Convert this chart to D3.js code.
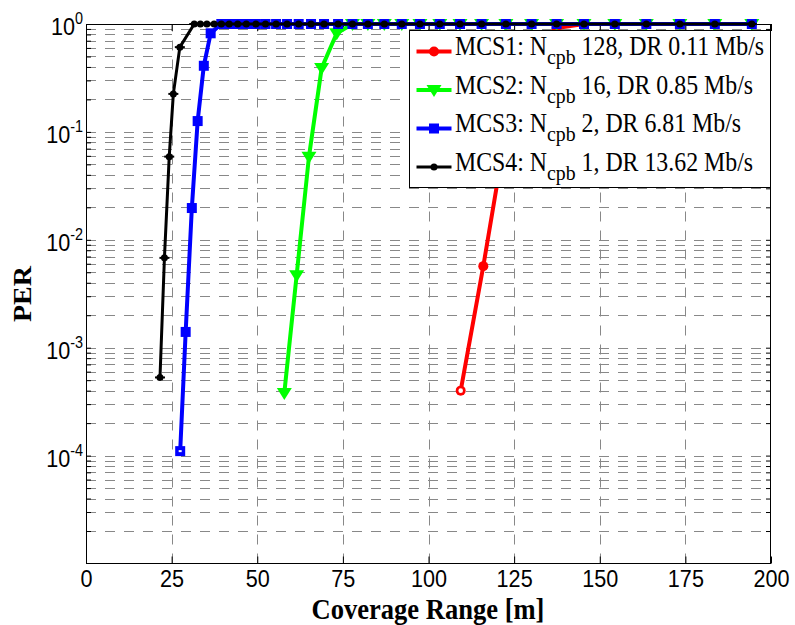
<!DOCTYPE html>
<html>
<head>
<meta charset="utf-8">
<script src="https://cdn.jsdelivr.net/npm/d3@7"></script>
<style>
  body { margin: 0; background: #fff; }
</style>
</head>
<body>
<div id="chart"></div>
<script>
// series values (PER vs coverage range)
var mcs1_x = [109.4, 116.0, 122.6, 130.1, 137.4];
var mcs1_y = [4.0e-4, 5.7e-3, 0.1, 0.5, 0.92];
var mcs2_x = [57.9, 61.5, 65.1, 68.8, 73.2];
var mcs2_y = [3.8e-4, 4.7e-3, 0.059, 0.39, 0.82];
var mcs3_x = [27.5, 29.1, 30.9, 32.6, 34.4, 36.4];
var mcs3_y = [1.1e-4, 1.4e-3, 0.0197, 0.126, 0.41, 0.82];
var mcs4_x = [21.6, 22.9, 24.3, 25.5, 27.4];
var mcs4_y = [5.3e-4, 6.8e-3, 0.059, 0.225, 0.61];
// points where every curve sits at PER = 1
var sat_x = [29.2, 31.6, 33.4, 35.3, 37.4, 39.5, 41.8, 44.3, 46.8, 49.6, 52.4, 55.5, 58.7,
             62.1, 65.7, 69.5, 73.6, 77.8, 82.3, 87.1, 92.2, 97.5, 103.3, 109.2, 115.5,
             122.6, 130.1, 137.4, 145.4, 154.4, 163.6, 173.4, 183.6, 194.4];

var names = ['MCS1', 'MCS2', 'MCS3', 'MCS4'];
var ncpb = ['128', '16', '2', '1'];
var rates = ['0.11', '0.85', '6.81', '13.62'];

var x_ticks = [0, 25, 50, 75, 100, 125, 150, 175, 200];
var y_exps = [0, -1, -2, -3, -4];

var width = 795, height = 625;
var plot_l = 86, plot_r = 771, plot_t = 24, plot_b = 563.5;
var sx = 0.9; // the figure text is a bit narrow

var svg = d3.select('#chart').append('svg')
    .attr('width', width)
    .attr('height', height);
svg.append('rect').attr('width', width).attr('height', height).attr('fill', '#fff');

var x_scale = d3.scaleLinear().domain([0, 200]).range([plot_l, plot_r]);
var y_scale = d3.scaleLog().domain([1e-5, 1]).range([plot_b, plot_t]);

// minor values for the log grid
var y_minor = [];
d3.range(-5, 0).forEach(function (k) {
    d3.range(1, 10).forEach(function (m) {
        if (!(k == -5 && m == 1)) y_minor.push(m * Math.pow(10, k));
    });
});

// grid
var grid = svg.append('g')
    .attr('stroke', '#888')
    .attr('stroke-width', 1)
    .attr('stroke-dasharray', '10,9');
grid.selectAll('.hg')
    .data(y_minor)
    .enter()
    .append('line')
    .attr('x1', plot_l).attr('x2', plot_r)
    .attr('y1', function (d) { return Math.round(y_scale(d)) + 0.5; })
    .attr('y2', function (d) { return Math.round(y_scale(d)) + 0.5; });
grid.selectAll('.vg')
    .data(x_ticks.slice(1, -1))
    .enter()
    .append('line')
    .attr('y1', plot_b).attr('y2', plot_t)
    .attr('x1', function (d) { return Math.round(x_scale(d)) + 0.5; })
    .attr('x2', function (d) { return Math.round(x_scale(d)) + 0.5; });

// axes with inward ticks
var x_axis = svg.append('g')
    .attr('transform', 'translate(0,' + plot_b + ')')
    .call(d3.axisBottom(x_scale).tickValues(x_ticks).tickSizeInner(-7).tickSizeOuter(0));
svg.append('g')
    .attr('transform', 'translate(0,' + plot_t + ')')
    .call(d3.axisTop(x_scale).tickValues(x_ticks).tickSizeInner(-7).tickSizeOuter(0).tickFormat(''));
svg.append('g')
    .attr('transform', 'translate(' + plot_l + ',0)')
    .call(d3.axisLeft(y_scale).tickValues(y_minor).tickSizeInner(-5).tickSizeOuter(0).tickFormat(''));
svg.append('g')
    .attr('transform', 'translate(' + plot_r + ',0)')
    .call(d3.axisRight(y_scale).tickValues(y_minor).tickSizeInner(-5).tickSizeOuter(0).tickFormat(''));
svg.selectAll('.domain').remove();
svg.selectAll('.tick line').attr('stroke', '#000');

x_axis.selectAll('text')
    .attr('fill', '#000')
    .attr('font-family', 'Liberation Sans, Arial, sans-serif')
    .attr('font-size', 24)
    .attr('dy', 0)
    .attr('y', 24)
    .attr('transform', 'scale(' + sx + ',1)');

// box
svg.append('rect')
    .attr('x', plot_l + 0.5).attr('y', plot_t + 0.5)
    .attr('width', plot_r - plot_l - 1).attr('height', plot_b - plot_t - 0.5)
    .attr('fill', 'none').attr('stroke', '#000').attr('stroke-width', 1);

// y labels 10^k
y_exps.forEach(function (k) {
    var yy = y_scale(Math.pow(10, k));
    var t = svg.append('text')
        .attr('transform', 'translate(83,' + (yy + 11) + ') scale(' + sx + ',1)')
        .attr('text-anchor', 'end')
        .attr('font-family', 'Liberation Sans, Arial, sans-serif')
        .attr('font-size', 24);
    t.append('tspan').text('10');
    t.append('tspan').attr('font-size', 16).attr('dy', -11).text(k);
});

// axis titles
svg.append('text')
    .attr('transform', 'translate(428,619) scale(' + sx + ',1)')
    .attr('text-anchor', 'middle')
    .attr('font-family', 'Liberation Serif, Times New Roman, serif')
    .attr('font-weight', 'bold')
    .attr('font-size', 29.5)
    .text('Coverage Range [m]');
svg.append('text')
    .attr('transform', 'translate(31,294) scale(' + sx + ',1) rotate(-90)')
    .attr('text-anchor', 'middle')
    .attr('font-family', 'Liberation Serif, Times New Roman, serif')
    .attr('font-weight', 'bold')
    .attr('font-size', 28)
    .text('PER');

// build series
function build(xs, ys) {
    var pts = xs.map(function (v, i) { return { x: v, y: ys[i] }; });
    var last = xs[xs.length - 1];
    sat_x.forEach(function (v) {
        if (v > last + 2) pts.push({ x: v, y: 1 });
    });
    return pts;
}
var series = [
    { pts: build(mcs1_x, mcs1_y), color: '#ff0000', width: 4 },
    { pts: build(mcs2_x, mcs2_y), color: '#00ff00', width: 4 },
    { pts: build(mcs3_x, mcs3_y), color: '#0000ff', width: 4 },
    { pts: build(mcs4_x, mcs4_y), color: '#000000', width: 3 }
];

var line = d3.line()
    .x(function (d) { return x_scale(d.x); })
    .y(function (d) { return y_scale(d.y); });

function marker(g, i, cx, cy, first) {
    var c = series[i].color;
    if (i == 0) {
        g.append('circle').attr('cx', cx).attr('cy', cy).attr('r', 5).attr('fill', c);
        if (first) g.append('circle').attr('cx', cx).attr('cy', cy).attr('r', 2.3).attr('fill', '#fff');
    } else if (i == 1) {
        g.append('path')
            .attr('d', 'M' + (cx - 7.5) + ',' + (cy - 5) + 'L' + (cx + 7.5) + ',' + (cy - 5) + 'L' + cx + ',' + (cy + 7) + 'Z')
            .attr('fill', c);
    } else if (i == 2) {
        g.append('rect').attr('x', cx - 5).attr('y', cy - 5).attr('width', 10).attr('height', 10).attr('fill', c);
        if (first) g.append('rect').attr('x', cx - 1.5).attr('y', cy - 1).attr('width', 3).attr('height', 2).attr('fill', '#fff');
    } else {
        g.append('circle').attr('cx', cx).attr('cy', cy).attr('r', 3.5).attr('fill', c);
        g.append('line').attr('x1', cx - 5).attr('x2', cx + 5).attr('y1', cy).attr('y2', cy)
            .attr('stroke', c).attr('stroke-width', 2);
    }
}

series.forEach(function (s, i) {
    var g = svg.append('g');
    g.append('path')
        .datum(s.pts)
        .attr('d', line)
        .attr('fill', 'none')
        .attr('stroke', s.color)
        .attr('stroke-width', s.width)
        .attr('stroke-linejoin', 'round');
    s.pts.forEach(function (p, j) {
        marker(g, i, x_scale(p.x), y_scale(p.y), j == 0);
    });
});

// legend
var lg = svg.append('g');
lg.append('rect')
    .attr('x', 409.5).attr('y', 30.5)
    .attr('width', 361).attr('height', 157)
    .attr('fill', '#fff').attr('stroke', '#000').attr('stroke-width', 1);
names.forEach(function (n, i) {
    var cy = 51.5 + i * 38.5;
    lg.append('line')
        .attr('x1', 416.5).attr('x2', 451.5).attr('y1', cy).attr('y2', cy)
        .attr('stroke', series[i].color).attr('stroke-width', series[i].width);
    marker(lg, i, 434, cy, false);
    var t = lg.append('text')
        .attr('transform', 'translate(455,' + (cy + 3.5) + ') scale(' + sx + ',1)')
        .attr('font-family', 'Liberation Serif, Times New Roman, serif')
        .attr('font-size', 26.5);
    t.append('tspan').text(n + ': N');
    t.append('tspan').attr('font-size', 22).attr('dy', 9).text('cpb');
    t.append('tspan').attr('dy', -9).text(' ' + ncpb[i] + ', DR ' + rates[i] + ' Mb/s');
});
</script>
</body>
</html>
